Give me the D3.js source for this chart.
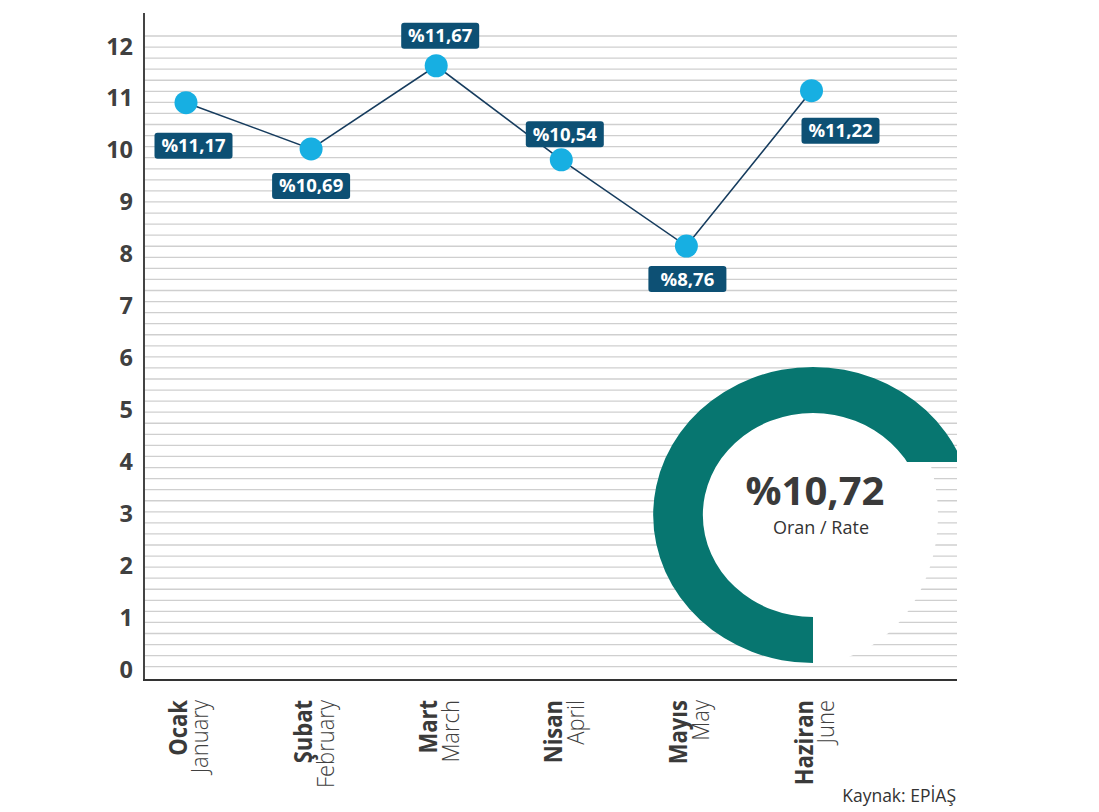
<!DOCTYPE html>
<html>
<head>
<meta charset="utf-8">
<script src="https://cdn.jsdelivr.net/npm/d3@7"></script>
<style>
  html, body { margin: 0; padding: 0; background: #ffffff; }
  svg { display: block; }
  text { font-family: "Open Sans", "Noto Sans", "DejaVu Sans", sans-serif; }
</style>
</head>
<body>
<svg id="chart" width="1099" height="812"></svg>
<script>
// ---------- data ----------
const monthsTR = ["Ocak", "Şubat", "Mart", "Nisan", "Mayıs", "Haziran"];
const monthsEN = ["January", "February", "March", "April", "May", "June"];
const values = [10.91, 10.02, 11.62, 9.81, 8.15, 11.14];
const valueLabels = ["%11,17", "%10,69", "%11,67", "%10,54", "%8,76", "%11,22"];
const yTicks = [0, 1, 2, 3, 4, 5, 6, 7, 8, 9, 10, 11, 12];
const averageLabel = "%10,72";
const averageCaption = "Oran / Rate";
const sourceText = "Kaynak: EPİAŞ";
const stripeCount = 58;

// ---------- layout ----------
const W = 1099, H = 812;
const plotLeft = 144, plotRight = 957, plotTop = 13, plotBottom = 680;
// label box placement relative to the point (layout only)
const labelPlace = [
  { dx: 7.5, dy: 43 }, { dx: 0, dy: 37 }, { dx: 4, dy: -30 },
  { dx: 3.5, dy: -25.5 }, { dx: 1, dy: 33 }, { dx: 29, dy: 40 }
];

const svg = d3.select("#chart");

const x = d3.scalePoint().domain(monthsTR).range([186, 811.5]);
const y = d3.scaleLinear().domain([0, 12]).range([669.5, 46]);
const stripe = d3.scaleLinear().domain([0, stripeCount - 1]).range([666.7, 36]);

// ---------- background stripes ----------
svg.append("g")
  .selectAll("line")
  .data(d3.range(stripeCount))
  .join("line")
  .attr("x1", plotLeft).attr("x2", plotRight)
  .attr("y1", d => stripe(d)).attr("y2", d => stripe(d))
  .attr("stroke", "#cfcfcf")
  .attr("stroke-width", 1.3);

// ---------- axes ----------
svg.append("line")
  .attr("x1", plotLeft).attr("x2", plotLeft)
  .attr("y1", plotTop).attr("y2", plotBottom)
  .attr("stroke", "#444").attr("stroke-width", 2);
svg.append("line")
  .attr("x1", plotLeft - 1).attr("x2", plotRight)
  .attr("y1", plotBottom).attr("y2", plotBottom)
  .attr("stroke", "#333").attr("stroke-width", 2);

svg.append("g")
  .selectAll("text")
  .data(yTicks)
  .join("text")
  .attr("x", 133)
  .attr("y", d => y(d) + 8.5)
  .attr("text-anchor", "end")
  .attr("font-size", 23.5)
  .attr("font-weight", 700)
  .attr("fill", "#404040")
  .text(d => d);

// month labels (rotated)
const mg = svg.append("g")
  .selectAll("g")
  .data(monthsTR)
  .join("g")
  .attr("transform", d => `translate(${x(d) + 1},700) scale(1.1,1) rotate(-90)`);
mg.append("text")
  .attr("x", 0).attr("y", 0)
  .attr("text-anchor", "end")
  .attr("font-size", 22)
  .attr("font-weight", 700)
  .attr("fill", "#3a3a3a")
  .text(d => d);
mg.append("text")
  .attr("x", 0).attr("y", 19.5)
  .attr("text-anchor", "end")
  .attr("font-size", 22)
  .attr("font-weight", 300)
  .attr("fill", "#404040")
  .text((d, i) => monthsEN[i]);

// ---------- donut decoration ----------
const cx = 813, cy = 515, sx = 1.08;
const defs = svg.append("defs");
const cp = defs.append("clipPath").attr("id", "ringClip");
cp.append("rect").attr("x", 0).attr("y", 0).attr("width", plotRight).attr("height", 462);
cp.append("rect").attr("x", 0).attr("y", 0).attr("width", cx).attr("height", H);

svg.append("ellipse")
  .attr("cx", cx).attr("cy", cy)
  .attr("rx", 125).attr("ry", 148)
  .attr("fill", "#ffffff");

const arc = d3.arc().innerRadius(102).outerRadius(148)
  .startAngle(-Math.PI).endAngle(Math.PI / 2);
svg.append("g").attr("clip-path", "url(#ringClip)")
  .append("path")
  .attr("transform", `translate(${cx},${cy}) scale(${sx},1)`)
  .attr("d", arc())
  .attr("fill", "#077670");

svg.append("text")
  .attr("x", 815).attr("y", 505)
  .attr("text-anchor", "middle")
  .attr("font-size", 40)
  .attr("font-weight", 700)
  .attr("fill", "#3a3a3a")
  .text(averageLabel);
svg.append("text")
  .attr("x", 821).attr("y", 534)
  .attr("text-anchor", "middle")
  .attr("font-size", 18)
  .attr("fill", "#333")
  .text(averageCaption);

// ---------- line + points ----------
const line = d3.line().x((d, i) => x(monthsTR[i])).y(d => y(d));
svg.append("path")
  .datum(values)
  .attr("d", line)
  .attr("fill", "none")
  .attr("stroke", "#163c5e")
  .attr("stroke-width", 1.6);

svg.append("g")
  .selectAll("circle")
  .data(values)
  .join("circle")
  .attr("cx", (d, i) => x(monthsTR[i]))
  .attr("cy", d => y(d))
  .attr("r", 11.5)
  .attr("fill", "#17afe2");

// ---------- value labels ----------
const lg = svg.append("g")
  .selectAll("g")
  .data(values)
  .join("g")
  .attr("transform", (d, i) => `translate(${x(monthsTR[i]) + labelPlace[i].dx},${y(d) + labelPlace[i].dy})`);
lg.append("rect")
  .attr("x", -39).attr("y", -13)
  .attr("width", 78).attr("height", 26)
  .attr("rx", 3)
  .attr("fill", "#0d5074");
lg.append("text")
  .attr("x", 0).attr("y", 6.5)
  .attr("text-anchor", "middle")
  .attr("font-size", 18.5)
  .attr("font-weight", 700)
  .attr("fill", "#ffffff")
  .text((d, i) => valueLabels[i]);

// ---------- source ----------
svg.append("text")
  .attr("x", 956).attr("y", 802)
  .attr("text-anchor", "end")
  .attr("font-size", 17.5)
  .attr("fill", "#333")
  .text(sourceText);
</script>
</body>
</html>
